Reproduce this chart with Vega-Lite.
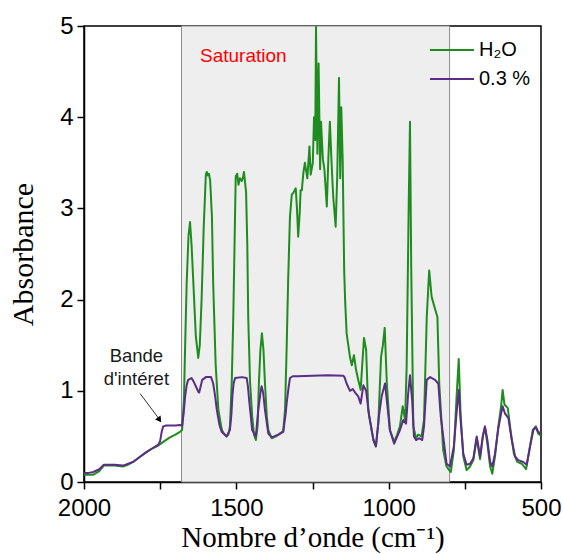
{
  "$schema": "https://vega.github.io/schema/vega-lite/v6.json",
  "width": 457,
  "height": 456,
  "autosize": {"type": "none"},
  "padding": {"left": 84, "top": 26, "right": 22, "bottom": 72},
  "background": "white",
  "config": {
    "view": {"stroke": "black", "strokeWidth": 1.5},
    "axis": {
      "domainColor": "black",
      "domainWidth": 1.5,
      "tickColor": "black",
      "tickWidth": 1.5,
      "tickSize": 7,
      "grid": false,
      "labelFont": "Liberation Sans",
      "labelFontSize": 24,
      "labelColor": "black",
      "titleFont": "Liberation Serif",
      "titleFontWeight": "normal",
      "titleColor": "black"
    },
    "legend": {
      "orient": "none",
      "legendX": 345,
      "legendY": 12,
      "padding": 0,
      "symbolType": "stroke",
      "symbolSize": 1936,
      "symbolStrokeWidth": 2,
      "labelFont": "Liberation Sans",
      "labelFontSize": 20,
      "labelColor": "black",
      "labelOffset": 4,
      "clipHeight": 24,
      "rowPadding": 5
    }
  },
  "datasets": {
    "spec": [
      {"w": 2000, "a": 0.08, "s": "H₂O"},
      {"w": 1985, "a": 0.08, "s": "H₂O"},
      {"w": 1969, "a": 0.08, "s": "H₂O"},
      {"w": 1950, "a": 0.12, "s": "H₂O"},
      {"w": 1935, "a": 0.18, "s": "H₂O"},
      {"w": 1925, "a": 0.18, "s": "H₂O"},
      {"w": 1900, "a": 0.18, "s": "H₂O"},
      {"w": 1872, "a": 0.17, "s": "H₂O"},
      {"w": 1855, "a": 0.19, "s": "H₂O"},
      {"w": 1839, "a": 0.22, "s": "H₂O"},
      {"w": 1815, "a": 0.28, "s": "H₂O"},
      {"w": 1794, "a": 0.33, "s": "H₂O"},
      {"w": 1775, "a": 0.37, "s": "H₂O"},
      {"w": 1756, "a": 0.40, "s": "H₂O"},
      {"w": 1740, "a": 0.44, "s": "H₂O"},
      {"w": 1718, "a": 0.49, "s": "H₂O"},
      {"w": 1700, "a": 0.52, "s": "H₂O"},
      {"w": 1685, "a": 0.55, "s": "H₂O"},
      {"w": 1678, "a": 0.57, "s": "H₂O"},
      {"w": 1672, "a": 0.9, "s": "H₂O"},
      {"w": 1668, "a": 1.5, "s": "H₂O"},
      {"w": 1663, "a": 2.18, "s": "H₂O"},
      {"w": 1657, "a": 2.7, "s": "H₂O"},
      {"w": 1652, "a": 2.85, "s": "H₂O"},
      {"w": 1647, "a": 2.6, "s": "H₂O"},
      {"w": 1641, "a": 2.18, "s": "H₂O"},
      {"w": 1633, "a": 1.6, "s": "H₂O"},
      {"w": 1625, "a": 1.36, "s": "H₂O"},
      {"w": 1620, "a": 1.5, "s": "H₂O"},
      {"w": 1614, "a": 2.0, "s": "H₂O"},
      {"w": 1607, "a": 2.8, "s": "H₂O"},
      {"w": 1600, "a": 3.37, "s": "H₂O"},
      {"w": 1597, "a": 3.40, "s": "H₂O"},
      {"w": 1594, "a": 3.36, "s": "H₂O"},
      {"w": 1590, "a": 3.38, "s": "H₂O"},
      {"w": 1586, "a": 3.31, "s": "H₂O"},
      {"w": 1580, "a": 2.9, "s": "H₂O"},
      {"w": 1576, "a": 2.18, "s": "H₂O"},
      {"w": 1568, "a": 1.3, "s": "H₂O"},
      {"w": 1559, "a": 0.79, "s": "H₂O"},
      {"w": 1548, "a": 0.58, "s": "H₂O"},
      {"w": 1543, "a": 0.54, "s": "H₂O"},
      {"w": 1532, "a": 0.50, "s": "H₂O"},
      {"w": 1526, "a": 0.52, "s": "H₂O"},
      {"w": 1521, "a": 0.61, "s": "H₂O"},
      {"w": 1515, "a": 1.1, "s": "H₂O"},
      {"w": 1510, "a": 1.81, "s": "H₂O"},
      {"w": 1502, "a": 3.35, "s": "H₂O"},
      {"w": 1497, "a": 3.38, "s": "H₂O"},
      {"w": 1493, "a": 3.26, "s": "H₂O"},
      {"w": 1488, "a": 3.33, "s": "H₂O"},
      {"w": 1482, "a": 3.30, "s": "H₂O"},
      {"w": 1478, "a": 3.34, "s": "H₂O"},
      {"w": 1475, "a": 3.40, "s": "H₂O"},
      {"w": 1468, "a": 3.18, "s": "H₂O"},
      {"w": 1464, "a": 2.6, "s": "H₂O"},
      {"w": 1461, "a": 1.81, "s": "H₂O"},
      {"w": 1455, "a": 1.1, "s": "H₂O"},
      {"w": 1448, "a": 0.72, "s": "H₂O"},
      {"w": 1442, "a": 0.52, "s": "H₂O"},
      {"w": 1436, "a": 0.46, "s": "H₂O"},
      {"w": 1430, "a": 0.62, "s": "H₂O"},
      {"w": 1426, "a": 1.08, "s": "H₂O"},
      {"w": 1421, "a": 1.45, "s": "H₂O"},
      {"w": 1416, "a": 1.63, "s": "H₂O"},
      {"w": 1411, "a": 1.45, "s": "H₂O"},
      {"w": 1406, "a": 1.08, "s": "H₂O"},
      {"w": 1400, "a": 0.72, "s": "H₂O"},
      {"w": 1395, "a": 0.57, "s": "H₂O"},
      {"w": 1384, "a": 0.48, "s": "H₂O"},
      {"w": 1370, "a": 0.50, "s": "H₂O"},
      {"w": 1362, "a": 0.52, "s": "H₂O"},
      {"w": 1346, "a": 0.56, "s": "H₂O"},
      {"w": 1340, "a": 0.8, "s": "H₂O"},
      {"w": 1335, "a": 1.45, "s": "H₂O"},
      {"w": 1330, "a": 2.2, "s": "H₂O"},
      {"w": 1324, "a": 2.91, "s": "H₂O"},
      {"w": 1318, "a": 3.15, "s": "H₂O"},
      {"w": 1313, "a": 3.17, "s": "H₂O"},
      {"w": 1305, "a": 3.22, "s": "H₂O"},
      {"w": 1301, "a": 3.0, "s": "H₂O"},
      {"w": 1297, "a": 2.69, "s": "H₂O"},
      {"w": 1292, "a": 2.95, "s": "H₂O"},
      {"w": 1289, "a": 3.2, "s": "H₂O"},
      {"w": 1285, "a": 3.2, "s": "H₂O"},
      {"w": 1280, "a": 3.39, "s": "H₂O"},
      {"w": 1275, "a": 3.5, "s": "H₂O"},
      {"w": 1267, "a": 3.33, "s": "H₂O"},
      {"w": 1260, "a": 3.68, "s": "H₂O"},
      {"w": 1256, "a": 3.37, "s": "H₂O"},
      {"w": 1249, "a": 3.5, "s": "H₂O"},
      {"w": 1245, "a": 4.0, "s": "H₂O"},
      {"w": 1241, "a": 3.75, "s": "H₂O"},
      {"w": 1238.5, "a": 4.99, "s": "H₂O"},
      {"w": 1234, "a": 3.6, "s": "H₂O"},
      {"w": 1230, "a": 4.59, "s": "H₂O"},
      {"w": 1225, "a": 3.43, "s": "H₂O"},
      {"w": 1222, "a": 3.95, "s": "H₂O"},
      {"w": 1216, "a": 3.54, "s": "H₂O"},
      {"w": 1211, "a": 3.43, "s": "H₂O"},
      {"w": 1203, "a": 3.02, "s": "H₂O"},
      {"w": 1198, "a": 3.54, "s": "H₂O"},
      {"w": 1193, "a": 3.95, "s": "H₂O"},
      {"w": 1187, "a": 3.47, "s": "H₂O"},
      {"w": 1182, "a": 3.13, "s": "H₂O"},
      {"w": 1174, "a": 2.80, "s": "H₂O"},
      {"w": 1169, "a": 3.33, "s": "H₂O"},
      {"w": 1163, "a": 4.43, "s": "H₂O"},
      {"w": 1159, "a": 3.33, "s": "H₂O"},
      {"w": 1155.5, "a": 4.11, "s": "H₂O"},
      {"w": 1151, "a": 3.54, "s": "H₂O"},
      {"w": 1146, "a": 2.32, "s": "H₂O"},
      {"w": 1143, "a": 2.0, "s": "H₂O"},
      {"w": 1138, "a": 1.63, "s": "H₂O"},
      {"w": 1127, "a": 1.37, "s": "H₂O"},
      {"w": 1121, "a": 1.28, "s": "H₂O"},
      {"w": 1114, "a": 1.39, "s": "H₂O"},
      {"w": 1107, "a": 1.23, "s": "H₂O"},
      {"w": 1100, "a": 1.12, "s": "H₂O"},
      {"w": 1092, "a": 1.01, "s": "H₂O"},
      {"w": 1081, "a": 1.58, "s": "H₂O"},
      {"w": 1074, "a": 1.45, "s": "H₂O"},
      {"w": 1067, "a": 0.79, "s": "H₂O"},
      {"w": 1050, "a": 0.46, "s": "H₂O"},
      {"w": 1042, "a": 0.39, "s": "H₂O"},
      {"w": 1034, "a": 0.64, "s": "H₂O"},
      {"w": 1025, "a": 1.37, "s": "H₂O"},
      {"w": 1019, "a": 1.5, "s": "H₂O"},
      {"w": 1013, "a": 1.69, "s": "H₂O"},
      {"w": 1006, "a": 1.08, "s": "H₂O"},
      {"w": 996, "a": 0.57, "s": "H₂O"},
      {"w": 982, "a": 0.44, "s": "H₂O"},
      {"w": 972, "a": 0.52, "s": "H₂O"},
      {"w": 963, "a": 0.61, "s": "H₂O"},
      {"w": 954, "a": 0.83, "s": "H₂O"},
      {"w": 946, "a": 0.68, "s": "H₂O"},
      {"w": 941, "a": 1.26, "s": "H₂O"},
      {"w": 934, "a": 3.09, "s": "H₂O"},
      {"w": 930, "a": 3.95, "s": "H₂O"},
      {"w": 926, "a": 2.36, "s": "H₂O"},
      {"w": 919, "a": 0.61, "s": "H₂O"},
      {"w": 910, "a": 0.48, "s": "H₂O"},
      {"w": 903, "a": 0.52, "s": "H₂O"},
      {"w": 892, "a": 0.50, "s": "H₂O"},
      {"w": 884, "a": 0.68, "s": "H₂O"},
      {"w": 875, "a": 1.81, "s": "H₂O"},
      {"w": 867, "a": 2.32, "s": "H₂O"},
      {"w": 859, "a": 2.03, "s": "H₂O"},
      {"w": 848, "a": 1.90, "s": "H₂O"},
      {"w": 840, "a": 1.81, "s": "H₂O"},
      {"w": 834, "a": 1.08, "s": "H₂O"},
      {"w": 821, "a": 0.35, "s": "H₂O"},
      {"w": 810, "a": 0.17, "s": "H₂O"},
      {"w": 799, "a": 0.12, "s": "H₂O"},
      {"w": 796, "a": 0.11, "s": "H₂O"},
      {"w": 786, "a": 0.35, "s": "H₂O"},
      {"w": 777, "a": 0.94, "s": "H₂O"},
      {"w": 770, "a": 1.35, "s": "H₂O"},
      {"w": 764, "a": 0.75, "s": "H₂O"},
      {"w": 755, "a": 0.28, "s": "H₂O"},
      {"w": 744, "a": 0.13, "s": "H₂O"},
      {"w": 733, "a": 0.17, "s": "H₂O"},
      {"w": 722, "a": 0.24, "s": "H₂O"},
      {"w": 711, "a": 0.48, "s": "H₂O"},
      {"w": 700, "a": 0.25, "s": "H₂O"},
      {"w": 691, "a": 0.50, "s": "H₂O"},
      {"w": 684, "a": 0.60, "s": "H₂O"},
      {"w": 676, "a": 0.42, "s": "H₂O"},
      {"w": 667, "a": 0.17, "s": "H₂O"},
      {"w": 660, "a": 0.09, "s": "H₂O"},
      {"w": 651, "a": 0.28, "s": "H₂O"},
      {"w": 640, "a": 0.61, "s": "H₂O"},
      {"w": 631, "a": 0.83, "s": "H₂O"},
      {"w": 626, "a": 1.01, "s": "H₂O"},
      {"w": 620, "a": 0.85, "s": "H₂O"},
      {"w": 609, "a": 0.81, "s": "H₂O"},
      {"w": 600, "a": 0.57, "s": "H₂O"},
      {"w": 589, "a": 0.31, "s": "H₂O"},
      {"w": 578, "a": 0.22, "s": "H₂O"},
      {"w": 563, "a": 0.20, "s": "H₂O"},
      {"w": 549, "a": 0.14, "s": "H₂O"},
      {"w": 538, "a": 0.35, "s": "H₂O"},
      {"w": 527, "a": 0.57, "s": "H₂O"},
      {"w": 517, "a": 0.61, "s": "H₂O"},
      {"w": 509, "a": 0.53, "s": "H₂O"},
      {"w": 501, "a": 0.51, "s": "H₂O"},
      {"w": 2000, "a": 0.10, "s": "0.3 %"},
      {"w": 1985, "a": 0.10, "s": "0.3 %"},
      {"w": 1969, "a": 0.11, "s": "0.3 %"},
      {"w": 1950, "a": 0.14, "s": "0.3 %"},
      {"w": 1935, "a": 0.19, "s": "0.3 %"},
      {"w": 1925, "a": 0.19, "s": "0.3 %"},
      {"w": 1900, "a": 0.19, "s": "0.3 %"},
      {"w": 1872, "a": 0.18, "s": "0.3 %"},
      {"w": 1855, "a": 0.20, "s": "0.3 %"},
      {"w": 1839, "a": 0.22, "s": "0.3 %"},
      {"w": 1815, "a": 0.28, "s": "0.3 %"},
      {"w": 1794, "a": 0.33, "s": "0.3 %"},
      {"w": 1775, "a": 0.37, "s": "0.3 %"},
      {"w": 1756, "a": 0.41, "s": "0.3 %"},
      {"w": 1750, "a": 0.45, "s": "0.3 %"},
      {"w": 1745, "a": 0.55, "s": "0.3 %"},
      {"w": 1740, "a": 0.61, "s": "0.3 %"},
      {"w": 1730, "a": 0.62, "s": "0.3 %"},
      {"w": 1718, "a": 0.62, "s": "0.3 %"},
      {"w": 1700, "a": 0.62, "s": "0.3 %"},
      {"w": 1685, "a": 0.625, "s": "0.3 %"},
      {"w": 1678, "a": 0.62, "s": "0.3 %"},
      {"w": 1673, "a": 0.75, "s": "0.3 %"},
      {"w": 1668, "a": 0.94, "s": "0.3 %"},
      {"w": 1663, "a": 1.06, "s": "0.3 %"},
      {"w": 1658, "a": 1.12, "s": "0.3 %"},
      {"w": 1647, "a": 1.14, "s": "0.3 %"},
      {"w": 1640, "a": 1.10, "s": "0.3 %"},
      {"w": 1633, "a": 1.05, "s": "0.3 %"},
      {"w": 1625, "a": 0.99, "s": "0.3 %"},
      {"w": 1622, "a": 0.98, "s": "0.3 %"},
      {"w": 1617, "a": 1.05, "s": "0.3 %"},
      {"w": 1612, "a": 1.12, "s": "0.3 %"},
      {"w": 1600, "a": 1.15, "s": "0.3 %"},
      {"w": 1583, "a": 1.15, "s": "0.3 %"},
      {"w": 1576, "a": 1.08, "s": "0.3 %"},
      {"w": 1570, "a": 0.95, "s": "0.3 %"},
      {"w": 1564, "a": 0.79, "s": "0.3 %"},
      {"w": 1555, "a": 0.62, "s": "0.3 %"},
      {"w": 1548, "a": 0.55, "s": "0.3 %"},
      {"w": 1532, "a": 0.50, "s": "0.3 %"},
      {"w": 1521, "a": 0.57, "s": "0.3 %"},
      {"w": 1516, "a": 0.75, "s": "0.3 %"},
      {"w": 1513, "a": 0.94, "s": "0.3 %"},
      {"w": 1509, "a": 1.08, "s": "0.3 %"},
      {"w": 1504, "a": 1.14, "s": "0.3 %"},
      {"w": 1482, "a": 1.15, "s": "0.3 %"},
      {"w": 1466, "a": 1.14, "s": "0.3 %"},
      {"w": 1462, "a": 1.05, "s": "0.3 %"},
      {"w": 1458, "a": 0.90, "s": "0.3 %"},
      {"w": 1448, "a": 0.57, "s": "0.3 %"},
      {"w": 1436, "a": 0.50, "s": "0.3 %"},
      {"w": 1428, "a": 0.79, "s": "0.3 %"},
      {"w": 1420, "a": 1.0, "s": "0.3 %"},
      {"w": 1417, "a": 1.05, "s": "0.3 %"},
      {"w": 1412, "a": 0.98, "s": "0.3 %"},
      {"w": 1406, "a": 0.79, "s": "0.3 %"},
      {"w": 1395, "a": 0.53, "s": "0.3 %"},
      {"w": 1384, "a": 0.49, "s": "0.3 %"},
      {"w": 1362, "a": 0.52, "s": "0.3 %"},
      {"w": 1346, "a": 0.55, "s": "0.3 %"},
      {"w": 1338, "a": 0.75, "s": "0.3 %"},
      {"w": 1335, "a": 0.86, "s": "0.3 %"},
      {"w": 1328, "a": 1.05, "s": "0.3 %"},
      {"w": 1324, "a": 1.14, "s": "0.3 %"},
      {"w": 1315, "a": 1.16, "s": "0.3 %"},
      {"w": 1300, "a": 1.16, "s": "0.3 %"},
      {"w": 1250, "a": 1.165, "s": "0.3 %"},
      {"w": 1200, "a": 1.17, "s": "0.3 %"},
      {"w": 1149, "a": 1.165, "s": "0.3 %"},
      {"w": 1145, "a": 1.15, "s": "0.3 %"},
      {"w": 1138, "a": 1.08, "s": "0.3 %"},
      {"w": 1127, "a": 1.0, "s": "0.3 %"},
      {"w": 1118, "a": 1.02, "s": "0.3 %"},
      {"w": 1110, "a": 0.98, "s": "0.3 %"},
      {"w": 1100, "a": 0.94, "s": "0.3 %"},
      {"w": 1092, "a": 0.86, "s": "0.3 %"},
      {"w": 1083, "a": 1.06, "s": "0.3 %"},
      {"w": 1074, "a": 1.0, "s": "0.3 %"},
      {"w": 1064, "a": 0.72, "s": "0.3 %"},
      {"w": 1050, "a": 0.46, "s": "0.3 %"},
      {"w": 1042, "a": 0.39, "s": "0.3 %"},
      {"w": 1032, "a": 0.72, "s": "0.3 %"},
      {"w": 1023, "a": 0.94, "s": "0.3 %"},
      {"w": 1012, "a": 1.08, "s": "0.3 %"},
      {"w": 1004, "a": 0.83, "s": "0.3 %"},
      {"w": 996, "a": 0.57, "s": "0.3 %"},
      {"w": 982, "a": 0.42, "s": "0.3 %"},
      {"w": 963, "a": 0.57, "s": "0.3 %"},
      {"w": 952, "a": 0.68, "s": "0.3 %"},
      {"w": 943, "a": 0.64, "s": "0.3 %"},
      {"w": 936, "a": 0.97, "s": "0.3 %"},
      {"w": 930, "a": 1.17, "s": "0.3 %"},
      {"w": 923, "a": 0.9, "s": "0.3 %"},
      {"w": 917, "a": 0.50, "s": "0.3 %"},
      {"w": 910, "a": 0.46, "s": "0.3 %"},
      {"w": 899, "a": 0.48, "s": "0.3 %"},
      {"w": 890, "a": 0.46, "s": "0.3 %"},
      {"w": 884, "a": 0.61, "s": "0.3 %"},
      {"w": 875, "a": 1.12, "s": "0.3 %"},
      {"w": 864, "a": 1.15, "s": "0.3 %"},
      {"w": 848, "a": 1.12, "s": "0.3 %"},
      {"w": 837, "a": 1.08, "s": "0.3 %"},
      {"w": 829, "a": 0.72, "s": "0.3 %"},
      {"w": 818, "a": 0.42, "s": "0.3 %"},
      {"w": 810, "a": 0.20, "s": "0.3 %"},
      {"w": 799, "a": 0.17, "s": "0.3 %"},
      {"w": 786, "a": 0.39, "s": "0.3 %"},
      {"w": 777, "a": 0.76, "s": "0.3 %"},
      {"w": 770, "a": 1.01, "s": "0.3 %"},
      {"w": 764, "a": 0.68, "s": "0.3 %"},
      {"w": 755, "a": 0.31, "s": "0.3 %"},
      {"w": 744, "a": 0.19, "s": "0.3 %"},
      {"w": 733, "a": 0.20, "s": "0.3 %"},
      {"w": 722, "a": 0.26, "s": "0.3 %"},
      {"w": 711, "a": 0.50, "s": "0.3 %"},
      {"w": 700, "a": 0.28, "s": "0.3 %"},
      {"w": 691, "a": 0.50, "s": "0.3 %"},
      {"w": 684, "a": 0.61, "s": "0.3 %"},
      {"w": 676, "a": 0.46, "s": "0.3 %"},
      {"w": 667, "a": 0.22, "s": "0.3 %"},
      {"w": 660, "a": 0.17, "s": "0.3 %"},
      {"w": 651, "a": 0.31, "s": "0.3 %"},
      {"w": 640, "a": 0.59, "s": "0.3 %"},
      {"w": 631, "a": 0.75, "s": "0.3 %"},
      {"w": 626, "a": 0.83, "s": "0.3 %"},
      {"w": 618, "a": 0.75, "s": "0.3 %"},
      {"w": 607, "a": 0.70, "s": "0.3 %"},
      {"w": 596, "a": 0.46, "s": "0.3 %"},
      {"w": 585, "a": 0.28, "s": "0.3 %"},
      {"w": 575, "a": 0.24, "s": "0.3 %"},
      {"w": 558, "a": 0.22, "s": "0.3 %"},
      {"w": 547, "a": 0.19, "s": "0.3 %"},
      {"w": 536, "a": 0.39, "s": "0.3 %"},
      {"w": 525, "a": 0.57, "s": "0.3 %"},
      {"w": 517, "a": 0.60, "s": "0.3 %"},
      {"w": 509, "a": 0.55, "s": "0.3 %"},
      {"w": 501, "a": 0.53, "s": "0.3 %"}
    ]
  },
  "encoding": {
    "x": {
      "field": "w", "type": "quantitative",
      "scale": {"domain": [500, 2000], "reverse": true, "nice": false, "zero": false},
      "axis": {
        "title": "Nombre d’onde (cm⁻¹)",
        "titleFontSize": 29,
        "titlePadding": 3,
        "values": [2000, 1750, 1500, 1250, 1000, 750, 500],
        "format": "d",
        "labelExpr": "datum.value % 500 === 0 ? datum.label : ''",
        "labelFlush": false,
        "labelOverlap": false,
        "labelPadding": 7
      }
    },
    "y": {
      "field": "a", "type": "quantitative",
      "scale": {"domain": [0, 5], "nice": false, "zero": false},
      "axis": {
        "title": "Absorbance",
        "titleFontSize": 30,
        "titlePadding": 21,
        "values": [0, 0.5, 1, 1.5, 2, 2.5, 3, 3.5, 4, 4.5, 5],
        "format": "d",
        "labelExpr": "datum.value % 1 === 0 ? datum.label : ''",
        "labelOverlap": false,
        "labelPadding": 4
      }
    }
  },
  "layer": [
    {
      "data": {"values": [{"w": 1680, "w2": 800}]},
      "mark": {"type": "rect", "fill": "#eeeeee", "stroke": "#8a8a8a", "strokeWidth": 1},
      "encoding": {
        "y": {"value": 0},
        "y2": {"value": 456},
        "x2": {"field": "w2"}
      }
    },
    {
      "data": {"name": "spec"},
      "mark": {"type": "line", "strokeWidth": 2, "strokeJoin": "round"},
      "encoding": {
        "color": {
          "field": "s", "type": "nominal",
          "scale": {"domain": ["H₂O", "0.3 %"], "range": ["#1e8c1e", "#5b2d87"]},
          "legend": {"title": null}
        }
      }
    },
    {
      "data": {"values": [{"w": 1477, "a": 4.61, "t": "Saturation"}]},
      "mark": {"type": "text", "color": "#ff0000", "font": "Liberation Sans", "fontSize": 19, "baseline": "alphabetic", "align": "center"},
      "encoding": {
        "text": {"field": "t"}
      }
    },
    {
      "data": {"values": [{"w": 1828, "a": 1.32, "t": "Bande"}, {"w": 1828, "a": 1.065, "t": "d'intéret"}]},
      "mark": {"type": "text", "color": "#1a1a1a", "font": "Liberation Sans", "fontSize": 18.5, "baseline": "alphabetic", "align": "center"},
      "encoding": {
        "text": {"field": "t"}
      }
    },
    {
      "data": {"values": [{"w": 1816, "a": 0.97, "w2": 1752, "a2": 0.685}]},
      "mark": {"type": "rule", "color": "#333333", "strokeWidth": 1},
      "encoding": {
        "x2": {"field": "w2"},
        "y2": {"field": "a2"}
      }
    },
    {
      "data": {"values": [{"w": 1754, "a": 0.69}]},
      "mark": {"type": "point", "shape": "triangle", "filled": true, "color": "black", "size": 45, "angle": 145, "opacity": 1},
      "encoding": {}
    }
  ]
}
